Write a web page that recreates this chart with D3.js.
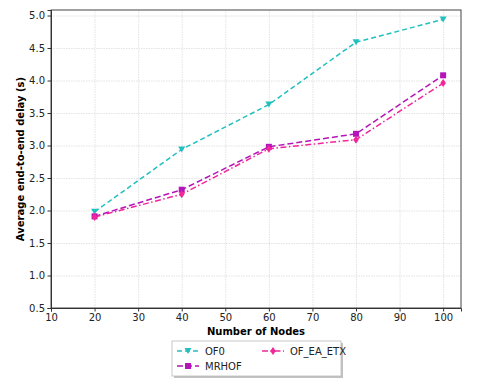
<!DOCTYPE html>
<html>
<head>
<meta charset="utf-8">
<script src="https://cdn.jsdelivr.net/npm/d3@7"></script>
<style>
  body { margin: 0; background: #fff; }
  svg text { font-family: "DejaVu Sans", sans-serif; }
  .grid line { stroke: #dcdcdc; stroke-width: 0.8; stroke-dasharray: 1.5,1; }
  .grid path { display: none; }
</style>
</head>
<body>
<div id="chart"></div>
<script>
// data
var nodes = [20, 40, 60, 80, 100];
var of0 = [1.98, 2.94, 3.63, 4.59, 4.94];
var mrhof = [1.91, 2.32, 2.98, 3.18, 4.08];
var ofEaEtx = [1.90, 2.25, 2.95, 3.09, 3.96];

var xTicks = [10, 20, 30, 40, 50, 60, 70, 80, 90, 100];
var yTicks = [0.5, 1.0, 1.5, 2.0, 2.5, 3.0, 3.5, 4.0, 4.5, 5.0];

var series = [
  { name: 'OF0', values: of0, color: '#22bfbf', dash: '5,3', marker: 'tri' },
  { name: 'MRHOF', values: mrhof, color: '#b414b9', dash: '6,3', marker: 'sq' },
  { name: 'OF_EA_ETX', values: ofEaEtx, color: '#f0269a', dash: '6,2.5,1.5,2.5', marker: 'dia' }
];

var W = 481, H = 382;
var margin = { top: 10, right: 20, bottom: 74, left: 51 },
  width = W - margin.left - margin.right,
  height = H - margin.top - margin.bottom;

var svg = d3.select('#chart')
  .append('svg')
  .attr('width', W)
  .attr('height', H);

var g = svg.append('g')
  .attr('transform', 'translate(' + margin.left + ',' + margin.top + ')');

var xScale = d3.scaleLinear().domain([10, 104.1]).range([0, width]);
var yScale = d3.scaleLinear().domain([0.5, 5.085]).range([height, 0]);

// grid
g.append('g').attr('class', 'grid')
  .attr('transform', 'translate(0,' + height + ')')
  .call(d3.axisBottom(xScale).tickValues(xTicks).tickSize(-height).tickFormat(''));
g.append('g').attr('class', 'grid')
  .call(d3.axisLeft(yScale).tickValues(yTicks).tickSize(-width).tickFormat(''));

// frame
g.append('rect')
  .attr('width', width).attr('height', height)
  .attr('fill', 'none').attr('stroke', '#444').attr('stroke-width', 1);

// axes
var xAxis = g.append('g')
  .attr('transform', 'translate(0,' + height + ')')
  .call(d3.axisBottom(xScale).tickValues(xTicks).tickSize(3.5).tickPadding(2.5).tickFormat(d3.format('d')));
var yAxis = g.append('g')
  .call(d3.axisLeft(yScale).tickValues(yTicks).tickSize(3.5).tickPadding(2.5).tickFormat(d3.format('.1f')));
[xAxis, yAxis].forEach(function (a) {
  a.select('.domain').attr('stroke', '#333');
  a.selectAll('.tick line').attr('stroke', '#333');
  a.selectAll('.tick text').attr('fill', '#222').style('font-size', '10px')
    .style('font-family', '"DejaVu Sans", sans-serif');
});

// axis labels
g.append('text')
  .attr('x', width / 2)
  .attr('y', height + 27)
  .attr('text-anchor', 'middle')
  .style('font-size', '10px')
  .style('font-weight', 'bold')
  .text('Number of Nodes');

g.append('text')
  .attr('transform', 'rotate(-90)')
  .attr('x', -height / 2)
  .attr('y', -27)
  .attr('text-anchor', 'middle')
  .style('font-size', '10px')
  .style('font-weight', 'bold')
  .text('Average end-to-end delay (s)');

function drawMarker(sel, type, color, x, y) {
  if (type === 'tri') {
    sel.append('path')
      .attr('d', 'M' + (x - 3.5) + ',' + (y - 3) + 'L' + (x + 3.5) + ',' + (y - 3) + 'L' + x + ',' + (y + 3) + 'Z')
      .attr('fill', color);
  } else if (type === 'sq') {
    sel.append('rect')
      .attr('x', x - 3).attr('y', y - 3).attr('width', 6).attr('height', 6)
      .attr('fill', color);
  } else {
    sel.append('path')
      .attr('d', 'M' + x + ',' + (y - 4) + 'L' + (x + 2.8) + ',' + y + 'L' + x + ',' + (y + 4) + 'L' + (x - 2.8) + ',' + y + 'Z')
      .attr('fill', color);
  }
}

var line = d3.line()
  .x(function (d) { return xScale(d.x); })
  .y(function (d) { return yScale(d.y); });

series.forEach(function (s) {
  var pts = nodes.map(function (n, i) { return { x: n, y: s.values[i] }; });
  g.append('path')
    .attr('d', line(pts))
    .attr('fill', 'none')
    .attr('stroke', s.color)
    .attr('stroke-width', 1.5)
    .attr('stroke-dasharray', s.dash);
  var mg = g.append('g');
  pts.forEach(function (p) {
    drawMarker(mg, s.marker, s.color, xScale(p.x), yScale(p.y));
  });
});

// legend
var lx = 172, ly = 341, lw = 169, lh = 35;
svg.append('rect')
  .attr('x', lx + 2).attr('y', ly + 2).attr('width', lw).attr('height', lh)
  .attr('fill', '#999').attr('opacity', 0.6);
svg.append('rect')
  .attr('x', lx).attr('y', ly).attr('width', lw).attr('height', lh)
  .attr('fill', '#fff').attr('stroke', '#bbb').attr('stroke-width', 0.8);

var legendPos = [
  { x: lx + 5, y: ly + 10 },
  { x: lx + 5, y: ly + 25 },
  { x: lx + 90, y: ly + 10 }
];
series.forEach(function (s, i) {
  var p = legendPos[i];
  var lg = svg.append('g');
  lg.append('line')
    .attr('x1', p.x).attr('x2', p.x + 22)
    .attr('y1', p.y).attr('y2', p.y)
    .attr('stroke', s.color).attr('stroke-width', 1.5)
    .attr('stroke-dasharray', s.dash);
  drawMarker(lg, s.marker, s.color, p.x + 11, p.y);
  lg.append('text')
    .attr('x', p.x + 28).attr('y', p.y)
    .attr('dy', '0.35em')
    .style('font-size', '10px')
    .attr('fill', '#222')
    .text(s.name);
});
</script>
</body>
</html>
